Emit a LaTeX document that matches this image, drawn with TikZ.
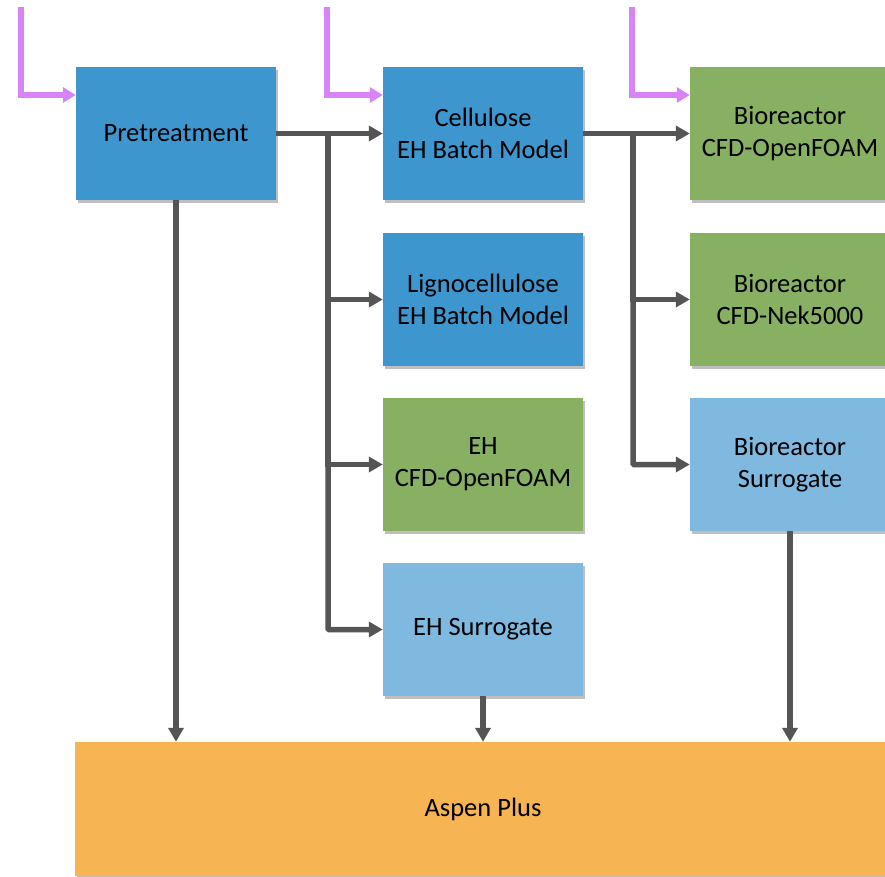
\documentclass[tikz,border=0pt]{standalone}
\usepackage{fontspec}
\setmainfont{Carlito}
\usetikzlibrary{arrows.meta,shadows}
\definecolor{bdark}{HTML}{3E96CF}
\definecolor{blight}{HTML}{7FB9DF}
\definecolor{gbox}{HTML}{87B062}
\definecolor{obox}{HTML}{F6B552}
\definecolor{purp}{HTML}{D883F8}
\definecolor{conn}{HTML}{555555}
\tikzset{
  box/.style={rectangle, minimum width=200pt, minimum height=133pt, inner sep=0pt,
    align=center, font=\fontsize{26.5}{32}\selectfont,
    drop shadow={shadow xshift=2pt, shadow yshift=-3pt, opacity=0.25, fill=black}},
  gl/.style={draw=conn, line width=5.5pt, -{Triangle[length=14pt,width=15pt]}},
  pl/.style={draw=purp, line width=5.5pt, -{Triangle[length=13pt,width=15pt]}},
}
\begin{document}
\begin{tikzpicture}[x=1pt,y=-1pt]
\useasboundingbox (0,0) rectangle (885,876);
\clip (0,0) rectangle (885,876);
% boxes
\node[box, fill=bdark] (pre) at (176,133.5) {Pretreatment};
\node[box, fill=bdark] (cel) at (483,133.5) {Cellulose\\EH Batch Model};
\node[box, fill=gbox] (bof) at (790,133.5) {Bioreactor\\CFD-OpenFOAM};
\node[box, fill=bdark] (lig) at (483,299.5) {Lignocellulose\\EH Batch Model};
\node[box, fill=gbox] (bnk) at (790,299.5) {Bioreactor\\CFD-Nek5000};
\node[box, fill=gbox] (ehc) at (483,464.5) {EH\\CFD-OpenFOAM};
\node[box, fill=blight] (bsu) at (790,464.5) {Bioreactor\\Surrogate};
\node[box, fill=blight] (ehs) at (483,629.5) {EH Surrogate};
\node[box, fill=obox, minimum width=816pt, minimum height=134pt] (asp) at (483,809) {Aspen Plus};
% junctions
\coordinate (j1) at (328,133.5);
\coordinate (j2) at (633,133.5);
% gray connectors
\draw[gl] (pre.east) -- (cel.west);
\draw[gl] (cel.east) -- (bof.west);
\draw[gl] (j1) |- (lig.west);
\draw[gl] (j1) |- (ehc.west);
\draw[gl, rounded corners=1pt] (j1) |- (ehs.west);
\draw[gl] (j2) |- (bnk.west);
\draw[gl, rounded corners=1pt] (j2) |- (bsu.west);
\draw[gl] (pre.south) -- (pre.south |- asp.north);
\draw[gl] (ehs.south) -- (ehs.south |- asp.north);
\draw[gl] (bsu.south) -- (bsu.south |- asp.north);
% purple inputs
\coordinate (p1) at (21,7);
\coordinate (p2) at (327,7);
\coordinate (p3) at (632,7);
\draw[pl] (p1) |- ([yshift=38.5pt]pre.west);
\draw[pl] (p2) |- ([yshift=38.5pt]cel.west);
\draw[pl] (p3) |- ([yshift=38.5pt]bof.west);
\end{tikzpicture}
\end{document}
